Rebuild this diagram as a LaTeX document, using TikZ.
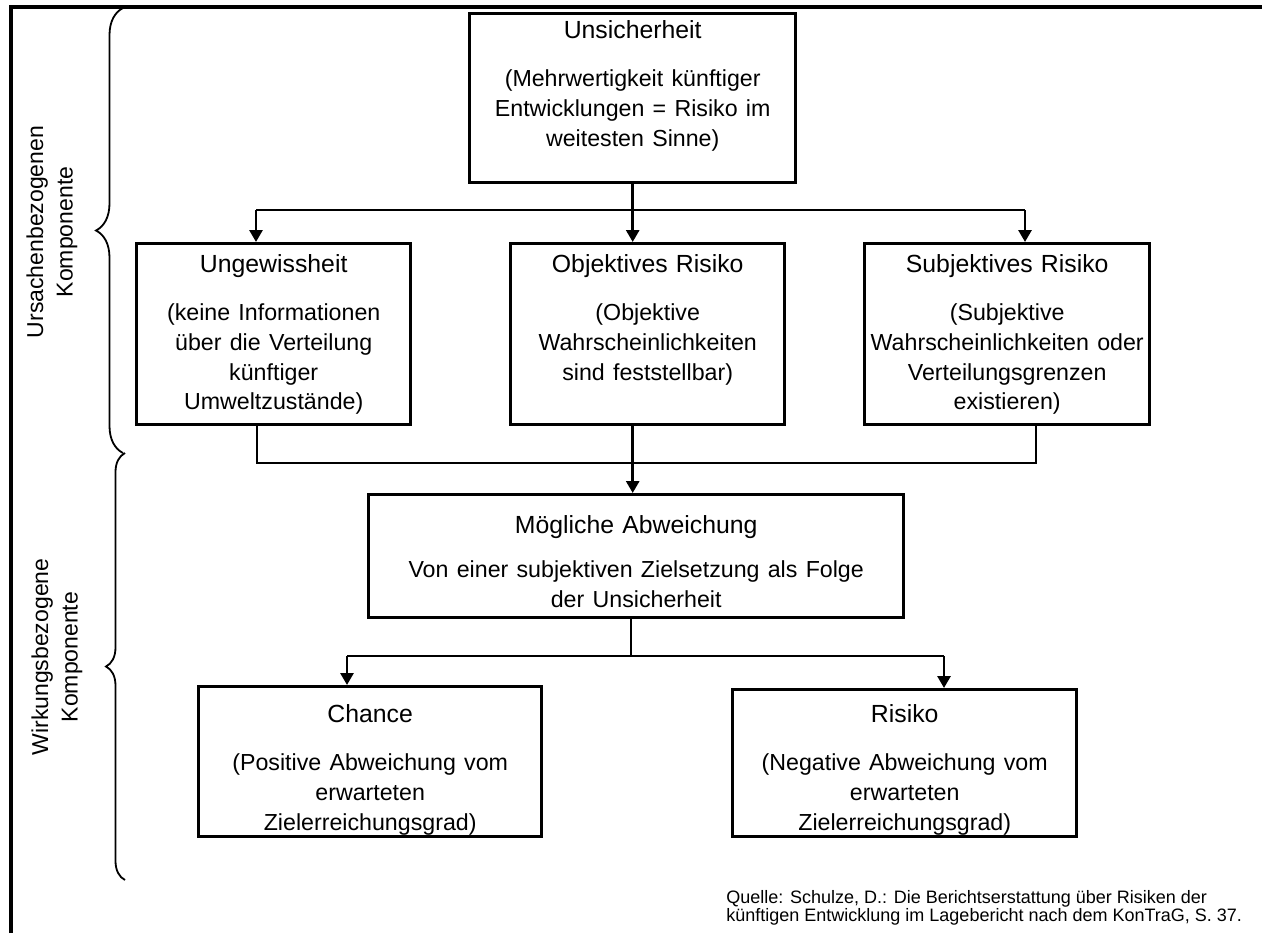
\documentclass[tikz,border=0pt]{standalone}
\usepackage{fontspec}
\setmainfont{Liberation Sans}
\usepackage{xcolor}
\usetikzlibrary{positioning, arrows.meta, decorations.pathreplacing}
\definecolor{cText}{HTML}{000000}
\definecolor{cLine}{HTML}{000000}
\newcommand{\koerper}{\fontsize{11.6}{14.9}\selectfont}

\begin{document}
\begin{tikzpicture}[x=0.5pt, y=-0.5pt,
    stufe/.style={draw=cLine, line width=1.7pt, inner ysep=0pt, inner xsep=-4pt,
                  anchor=north west, align=center,
                  font=\fontsize{12.4}{14.9}\selectfont, text=cText},
    linie/.style={draw=cLine, line width=1pt},
    pfeil/.style={draw=cLine, line width=1.4pt, -{Triangle[width=6.5pt, length=6pt]}},
    seite/.style={rotate=90, align=center, font=\fontsize{11.5}{14.8}\selectfont, text=cText},
    klammer/.style={draw=cLine, line width=0.9pt, decorate,
                    decoration={brace, amplitude=#1}},
  ]
  \useasboundingbox (0,0) rectangle (1262,933);
  % frame
  \draw[line width=1.6pt, cLine] (11,933) -- (11,7) -- (1262,7);

  % boxes (text width = box width + 8pt)
  \node[stufe, text width=171pt, text height=12.5pt, text depth=72pt] (unsich) at (468,12)
    {Unsicherheit\\[9pt]\koerper(Mehrwertigkeit künftiger\\Entwicklungen = Risiko im\\weitesten Sinne)};
  \node[stufe, text width=145pt, text height=14.5pt, text depth=76pt] (ungew) at (135,242)
    {Ungewissheit\\[9pt]\koerper(keine Informationen\\über die Verteilung\\künftiger\\Umweltzustände)};
  \node[stufe, text width=145pt, text height=14.5pt, text depth=76pt] (objekt) at (509,242)
    {Objektives Risiko\\[9pt]\koerper(Objektive\\Wahrscheinlichkeiten\\sind feststellbar)};
  \node[stufe, text width=150.5pt, text height=14.5pt, text depth=76pt] (subjekt) at (863,242)
    {Subjektives Risiko\\[9pt]\koerper(Subjektive\\Wahrscheinlichkeiten oder\\Verteilungsgrenzen\\existieren)};
  \node[stufe, text width=275.5pt, text height=19.5pt, text depth=42pt] (abw) at (367,493)
    {Mögliche Abweichung\\[7pt]\koerper Von einer subjektiven Zielsetzung als Folge\\der Unsicherheit};
  \node[stufe, text width=179.5pt, text height=18pt, text depth=57pt] (chance) at (197,685)
    {Chance\\[9pt]\koerper(Positive Abweichung vom\\erwarteten\\Zielerreichungsgrad)};
  \node[stufe, text width=180pt, text height=16.5pt, text depth=57pt] (risiko) at (731,688)
    {Risiko\\[9pt]\koerper(Negative Abweichung vom\\erwarteten\\Zielerreichungsgrad)};

  % connectors
  \coordinate (ol) at (256,210);
  \coordinate (or) at (1025,210);
  \coordinate (ul) at (257,463);
  \coordinate (ur) at (1036,463);
  \coordinate (lm) at (631,656);
  \coordinate (ll) at (347,656);
  \coordinate (lr) at (944,656);
  \draw[pfeil] (unsich.south) -- (unsich.south |- objekt.north);
  \draw[linie] (ol) -- (or);
  \draw[pfeil] (ol) -- (ol |- ungew.north);
  \draw[pfeil] (or) -- (or |- subjekt.north);
  \draw[linie] (ul |- ungew.south) -- (ul) -- (ur) -- (ur |- subjekt.south);
  \draw[pfeil] (unsich.south |- objekt.south) -- (unsich.south |- abw.north);
  \draw[linie] (lm |- abw.south) -- (lm);
  \draw[linie] (ll) -- (lr);
  \draw[pfeil] (ll) -- (ll |- chance.north);
  \draw[pfeil] (lr) -- (lr |- risiko.north);

  % side braces and labels
  \draw[klammer=13.5pt] (123,453) -- (123,8);
  \draw[klammer=9.5pt] (125,880) -- (125,453);
  \node[seite] (ursache) at (52,232) {Ursachenbezogenen\\Komponente};
  \node[seite] (wirkung) at (57,657) {Wirkungsbezogene\\Komponente};

  % source
  \node[anchor=north west, align=left, inner sep=0pt, text=cText,
        font=\fontsize{9}{9.2}\selectfont] (quelle) at (726,890)
    {Quelle: Schulze, D.: Die Berichtserstattung über Risiken der\\künftigen Entwicklung im Lagebericht nach dem KonTraG, S. 37.};
\end{tikzpicture}
\end{document}
